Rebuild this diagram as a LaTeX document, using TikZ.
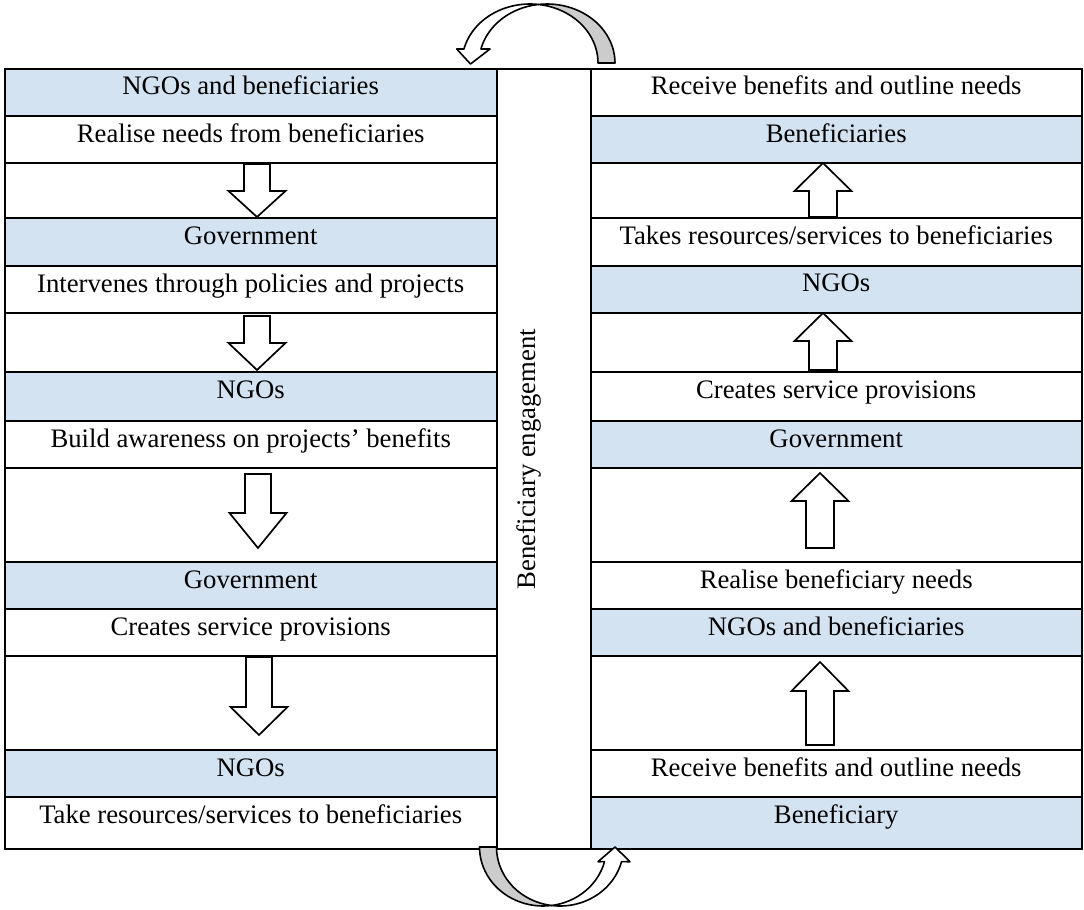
\documentclass[tikz,border=0pt]{standalone}
\usepackage{fontspec}
\setmainfont{Liberation Serif}
\definecolor{cellblue}{RGB}{211,227,242}
\definecolor{bandgray}{RGB}{204,204,204}
\newcommand\blockdown[4]{\draw[blockarrow] ({#1-13},#2) -- ({#1+13},#2) -- ({#1+13},#3) -- ({#1+28.5},#3) -- (#1,#4) -- ({#1-28.5},#3) -- ({#1-13},#3) -- cycle;}
\newcommand\blockup[4]{\draw[blockarrow] ({#1-14},#4) -- ({#1+14},#4) -- ({#1+14},#3) -- ({#1+28.5},#3) -- (#1,#2) -- ({#1-28.5},#3) -- ({#1-14},#3) -- cycle;}
\begin{document}
\begin{tikzpicture}[x=1pt,y=-1pt,
  tablerule/.style={line width=2pt},
  celltext/.style={anchor=base,font=\fontsize{26.7}{30}\selectfont,inner sep=0pt},
  blockarrow/.style={draw,fill=white,line width=1.7pt,line join=miter},
  band/.style={draw,line width=1.6pt,line join=round}]
\useasboundingbox (0,0) rectangle (1084,910);
% blue cells, left column
\fill[cellblue] (4.7,69) rectangle (496.7,116);
\fill[cellblue] (4.7,218) rectangle (496.7,266);
\fill[cellblue] (4.7,372) rectangle (496.7,421);
\fill[cellblue] (4.7,562) rectangle (496.7,609);
\fill[cellblue] (4.7,750) rectangle (496.7,797);
% blue cells, right column
\fill[cellblue] (590.7,116) rectangle (1081.7,163);
\fill[cellblue] (590.7,266) rectangle (1081.7,313);
\fill[cellblue] (590.7,421) rectangle (1081.7,468);
\fill[cellblue] (590.7,609) rectangle (1081.7,656);
\fill[cellblue] (590.7,797) rectangle (1081.7,849.3);
% row rules
\foreach \y in {116,163,218,266,313,372,421,468,562,609,656,750,797}{
  \draw[tablerule] (4.7,\y) -- (496.7,\y);
  \draw[tablerule] (590.7,\y) -- (1081.7,\y);
}
\draw[tablerule] (4.7,69) rectangle (1081.7,849.3);
\draw[tablerule] (496.7,69) -- (496.7,849.3);
\draw[tablerule] (590.7,69) -- (590.7,849.3);
% left texts
\node[celltext] (L0) at (250.7,94.5) {NGOs and beneficiaries};
\node[celltext] (L1) at (250.7,142.5) {Realise needs from beneficiaries};
\node[celltext] (L3) at (250.7,244) {Government};
\node[celltext] (L4) at (250.7,292) {Intervenes through policies and projects};
\node[celltext] (L6) at (250.7,398) {NGOs};
\node[celltext] (L7) at (250.7,447) {Build awareness on projects’ benefits};
\node[celltext] (L9) at (250.7,588) {Government};
\node[celltext] (L10) at (250.7,635) {Creates service provisions};
\node[celltext] (L12) at (250.7,776) {NGOs};
\node[celltext] (L13) at (250.7,823) {Take resources/services to beneficiaries};
% right texts
\node[celltext] (R0) at (836.2,94) {Receive benefits and outline needs};
\node[celltext] (R1) at (836.2,142) {Beneficiaries};
\node[celltext] (R3) at (836.2,244) {Takes resources/services to beneficiaries};
\node[celltext] (R4) at (836.2,291.5) {NGOs};
\node[celltext] (R6) at (836.2,398) {Creates service provisions};
\node[celltext] (R7) at (836.2,447) {Government};
\node[celltext] (R9) at (836.2,588) {Realise beneficiary needs};
\node[celltext] (R10) at (836.2,635) {NGOs and beneficiaries};
\node[celltext] (R12) at (836.2,776) {Receive benefits and outline needs};
\node[celltext] (R13) at (836.2,823) {Beneficiary};
% middle
\node[celltext,rotate=90] (eng) at (535,459) {Beneficiary engagement};
% block arrows
\blockdown{257}{164}{191}{217}
\blockdown{257}{316}{343}{370}
\blockdown{258}{474}{513}{548}
\blockdown{259}{657}{707}{735}
\blockup{823}{163}{191}{217}
\blockup{823}{313}{341}{370}
\blockup{820}{473}{501}{548}
\blockup{820}{662}{691}{745}
% top curved arrow
\path[band,fill=bandgray] plot[domain=0:82.8,samples=25] ({530+68*cos(\x)},{63-59*sin(\x)}) -- plot[domain=97.2:0,samples=25] ({547+68*cos(\x)},{63-59*sin(\x)}) -- cycle;
\path[band,fill=white] plot[domain=82.8:166.3,samples=30] ({530+68*cos(\x)},{63-59*sin(\x)}) -- (456.7,49) -- (470.5,64) -- (490,49) -- plot[domain=166.3:97.2,samples=30] ({547+68*cos(\x)},{63-59*sin(\x)}) -- cycle;
% bottom curved arrow
\path[band,fill=bandgray] plot[domain=180:82.3,samples=25] ({543+63.5*cos(\x)},{847+59*sin(\x)}) -- plot[domain=97.7:180,samples=25] ({560+63.5*cos(\x)},{847+59*sin(\x)}) -- cycle;
\path[band,fill=white] plot[domain=97.7:14.4,samples=30] ({560+63.5*cos(\x)},{847+59*sin(\x)}) -- (630,861.7) -- (615,847) -- (598,861.7) -- plot[domain=14.4:82.3,samples=30] ({543+63.5*cos(\x)},{847+59*sin(\x)}) -- cycle;
\end{tikzpicture}
\end{document}
